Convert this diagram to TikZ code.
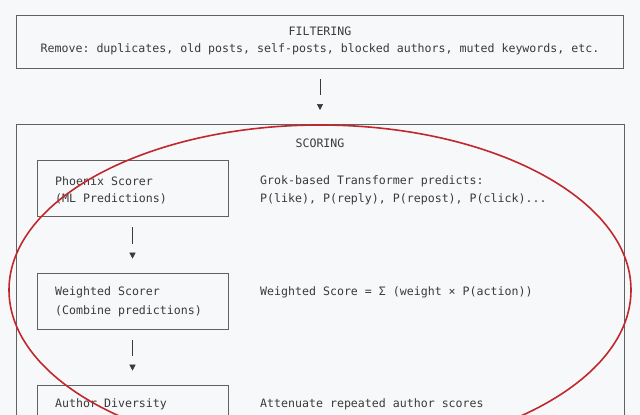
\documentclass[tikz,border=0pt]{standalone}
\usepackage{fontspec}
\setmonofont{DejaVu Sans Mono}
\usetikzlibrary{arrows.meta,positioning}
\definecolor{bgcol}{HTML}{F7F8F9}
\definecolor{inkcol}{HTML}{3A3A3A}
\definecolor{ringcol}{HTML}{C0282D}
\begin{document}
\begin{tikzpicture}[
    x=1pt, y=-1pt,
    font=\ttfamily\fontsize{11.6}{13}\selectfont,
    text=inkcol,
    stage/.style={
		rectangle,
		draw=inkcol!80,
		line width=0.6pt,
		inner sep=0pt
	},
	txt/.style={
		anchor=west,
		inner sep=0pt
	},
	flow/.style={
		draw=inkcol,
		line width=0.5pt,
		shorten <=11pt,
		shorten >=29pt
	},
	flowtip/.style={
		draw=inkcol,
		line width=0.5pt,
		dash pattern=on 0pt off 2000pt,
		-{Triangle[width=6pt,length=6pt]},
		shorten >=14pt
	}
  ]
  \fill[bgcol] (0,0) rectangle (640,415);
  \useasboundingbox (0,0) rectangle (640,415);

    % filtering stage
  \node [stage, minimum width=607pt, minimum height=53pt] (filter) at (320,41.5) {};
  \node [inner sep=0pt] (filtertitle) at (320,31) {FILTERING};
  \node [inner sep=0pt] (filtertext) at (320,49) {Remove: duplicates, old posts, self-posts, blocked authors, muted keywords, etc.};

    % scoring stage
  \draw [draw=inkcol!80, line width=0.6pt] (16,430) -- (16,124) -- (624,124) -- (624,430);
  \coordinate (scoring) at (320,124);
  \node [inner sep=0pt] (scoringtitle) at (320,143) {SCORING};

  \node [stage, minimum width=191pt, minimum height=56pt] (phoenix) at (132.5,188) {};
  \node [txt] at (55,181) {Phoenix Scorer};
  \node [txt] at (55,199) {(ML Predictions)};
  \node [txt] at (260,181) {Grok-based Transformer predicts:};
  \node [txt] at (260,199) {P(like), P(reply), P(repost), P(click)...};

  \node [stage, minimum width=191pt, minimum height=56pt] (weighted) at (132.5,301) {};
  \node [txt] at (55,292) {Weighted Scorer};
  \node [txt] at (55,311) {(Combine predictions)};
  \node [txt] at (260,292) {Weighted Score = Σ (weight × P(action))};

  \node [stage, minimum width=191pt, minimum height=56pt] (diversity) at (132.5,413) {};
  \node [txt] at (55,404) {Author Diversity};
  \node [txt] at (260,404) {Attenuate repeated author scores};

  \draw [flow] (filter) -- (scoring);
  \draw [flowtip] (filter) -- (scoring);
  \draw [flow] (phoenix) -- (weighted);
  \draw [flowtip] (phoenix) -- (weighted);
  \draw [flow] (weighted) -- (diversity);
  \draw [flowtip] (weighted) -- (diversity);

    % highlight ring
  \draw [ringcol, line width=1.6pt] (320,290) ellipse [x radius=311, y radius=165];
\end{tikzpicture}
\end{document}
